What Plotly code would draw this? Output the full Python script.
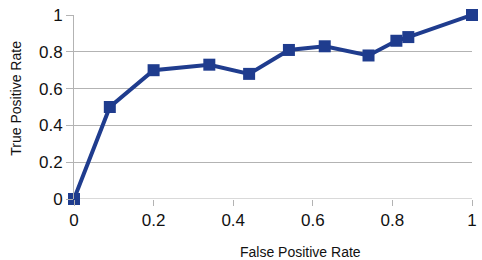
import plotly.graph_objects as go

fpr = [0, 0.09, 0.2, 0.34, 0.44, 0.54, 0.63, 0.74, 0.81, 0.84, 1.0]
tpr = [0, 0.5, 0.7, 0.73, 0.68, 0.81, 0.83, 0.78, 0.86, 0.88, 1.0]
tick_vals = [0, 0.2, 0.4, 0.6, 0.8, 1]
tick_text = ["0", "0.2", "0.4", "0.6", "0.8", "1"]

color = "#1f3c8e"
grid = "#b3b3b3"
font = "Liberation Sans, Arial, sans-serif"

fig = go.Figure(go.Scatter(
    x=fpr, y=tpr, mode="lines+markers",
    line=dict(color=color, width=4),
    marker=dict(symbol="square", size=12, color=color),
    cliponaxis=False,
))

fig.update_layout(
    width=482, height=260,
    margin=dict(l=74, r=10, t=15, b=61, autoexpand=False),
    plot_bgcolor="white", paper_bgcolor="white",
    showlegend=False,
    font=dict(family=font, color="#111111"),
    xaxis=dict(range=[0, 1], tickvals=tick_vals, ticktext=tick_text,
               showgrid=False, zeroline=False, showline=False, automargin=False,
               ticks="outside", ticklen=6, tickcolor=grid,
               tickfont=dict(size=17)),
    yaxis=dict(range=[0, 1], tickvals=tick_vals, ticktext=tick_text,
               showgrid=True, gridcolor=grid, gridwidth=1, zeroline=False,
               showline=True, linecolor=grid, linewidth=1, automargin=False,
               ticks="outside", ticklen=7, tickcolor=grid,
               tickfont=dict(size=17)),
    annotations=[
        dict(text="False Positive Rate", xref="paper", yref="paper",
             x=0.57, y=0, yshift=-53, xanchor="center", yanchor="middle",
             showarrow=False, font=dict(size=14, family=font)),
        dict(text="True Positive Rate", xref="paper", yref="paper",
             x=0, xshift=-58, y=0.545, xanchor="center", yanchor="middle",
             textangle=-90, showarrow=False, font=dict(size=14, family=font)),
    ],
)
fig.add_shape(type="line", xref="paper", yref="y", x0=0, x1=1, y0=0, y1=0,
              line=dict(color=grid, width=1), layer="below")

fig.write_html("out.html", config={"displayModeBar": False},
               post_script="document.body.style.margin='0';document.body.style.overflow='hidden';")
